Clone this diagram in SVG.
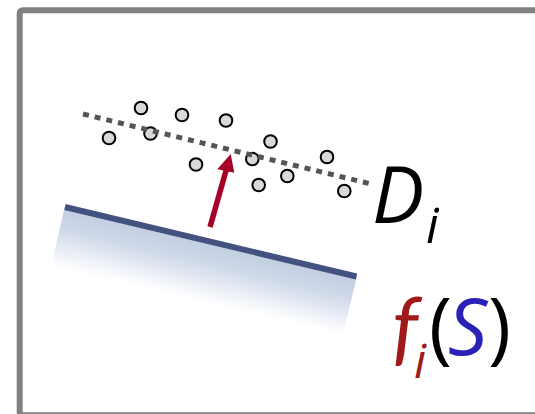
<svg xmlns="http://www.w3.org/2000/svg" width="535" height="414" viewBox="0 0 535 414">
<defs>
<linearGradient id="shade" gradientUnits="userSpaceOnUse" x1="211" y1="241" x2="197" y2="300">
<stop offset="0" stop-color="#c1cde1"/>
<stop offset="0.35" stop-color="#cdd7e8"/>
<stop offset="1" stop-color="#ffffff"/>
</linearGradient>
<style>
.pt{fill:#d9d9d9;stroke:#000;stroke-width:2}
.lbl{font-family:"Open Sans","DejaVu Sans",sans-serif}
.it{font-style:italic}
</style>
</defs>
<rect x="19.7" y="10.3" width="560" height="405" rx="3" fill="#fff" stroke="#808080" stroke-width="6"/>
<g id="surface">
<polygon points="65,206 357,276 342,338 51,266" fill="url(#shade)"/>
<line x1="65" y1="207" x2="356.5" y2="276.5" stroke="#435281" stroke-width="6"/>
</g>
<g id="points">
<circle class="pt" cx="141" cy="108" r="6.3"/>
<circle class="pt" cx="182" cy="115" r="6.3"/>
<circle class="pt" cx="226" cy="120.5" r="6.3"/>
<circle class="pt" cx="109" cy="138" r="6.3"/>
<circle class="pt" cx="150.5" cy="133.5" r="6.3"/>
<circle class="pt" cx="270.5" cy="141.5" r="6.3"/>
<circle class="pt" cx="196" cy="164.5" r="6.3"/>
<circle class="pt" cx="252.3" cy="159" r="6.3"/>
<circle class="pt" cx="327" cy="157" r="6.3"/>
<circle class="pt" cx="287.3" cy="176" r="6.3"/>
<circle class="pt" cx="258.7" cy="185" r="6.3"/>
<circle class="pt" cx="344.3" cy="191" r="6.3"/>
</g>
<g id="connectors">
<line id="fitline" x1="83" y1="114" x2="369" y2="183.5" stroke="#555" stroke-width="5" stroke-dasharray="6 6"/>
<line x1="210" y1="227" x2="226.5" y2="169" stroke="#a50026" stroke-width="5.5"/>
<polygon points="230.7,154 217.3,169.3 234.3,172.7" fill="#a50026"/>
</g>
<g id="label-D">
<text class="lbl it" x="372" y="223" font-size="78" fill="#000">D</text>
<text class="lbl it" x="426" y="243" font-size="50" fill="#000">i</text>
</g>
<g id="label-f">
<text class="it" x="392" y="356" font-size="82" fill="#a01a1c" font-family="Lato, 'Open Sans', sans-serif">f</text>
<text class="lbl it" x="414" y="378" font-size="48" fill="#a01a1c">i</text>
<text class="lbl" x="429" y="355" font-size="78" fill="#000">(</text>
<text class="lbl it" x="448" y="355" font-size="78" fill="#2a22b8">S</text>
<text class="lbl" x="488" y="355" font-size="78" fill="#000">)</text>
</g>
</svg>
